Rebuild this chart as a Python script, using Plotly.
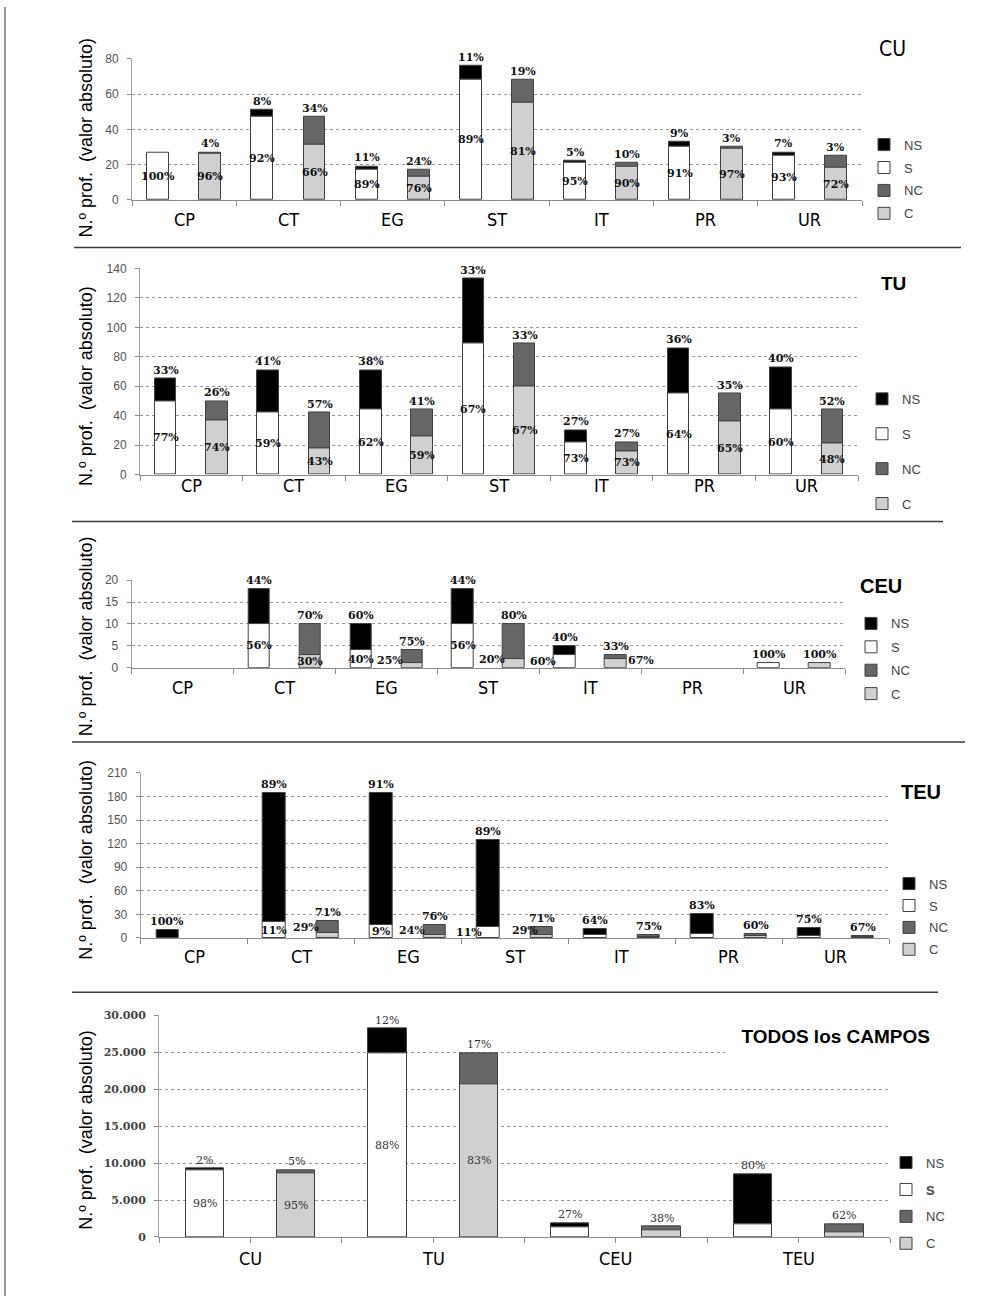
import plotly.graph_objects as go

W, H = 983, 1303

# ---------------- DATA ----------------
CATS = ["CP", "CT", "EG", "ST", "IT", "PR", "UR"]

# CU
CU_S = [27, 47, 17, 68, 21, 30, 25]
CU_NS = [0, 4, 2, 8, 1, 3, 2]
CU_C = [26, 31, 13, 55, 19, 29, 18]
CU_NC = [1, 16, 4, 13, 2, 1, 7]
CU_LBL_NS = ["", "8%", "11%", "11%", "5%", "9%", "7%"]
CU_LBL_S = ["100%", "92%", "89%", "89%", "95%", "91%", "93%"]
CU_LBL_NC = ["4%", "34%", "24%", "19%", "10%", "3%", "3%"]
CU_LBL_C = ["96%", "66%", "76%", "81%", "90%", "97%", "72%"]

# TU
TU_S = [50, 42, 44, 89, 22, 55, 44]
TU_NS = [15, 29, 27, 44, 8, 31, 29]
TU_C = [37, 18, 26, 60, 16, 36, 21]
TU_NC = [13, 24, 18, 29, 6, 19, 23]
TU_LBL_NS = ["33%", "41%", "38%", "33%", "27%", "36%", "40%"]
TU_LBL_S = ["77%", "59%", "62%", "67%", "73%", "64%", "60%"]
TU_LBL_NC = ["26%", "57%", "41%", "33%", "27%", "35%", "52%"]
TU_LBL_C = ["74%", "43%", "59%", "67%", "73%", "65%", "48%"]

# CEU
CEU_S = [0, 10, 4, 10, 3, 0, 1]
CEU_NS = [0, 8, 6, 8, 2, 0, 0]
CEU_C = [0, 3, 1, 2, 2, 0, 1]
CEU_NC = [0, 7, 3, 8, 1, 0, 0]
CEU_LBL_NS = ["", "44%", "60%", "44%", "40%", "", "100%"]
CEU_LBL_S = ["", "56%", "40%", "56%", "60%", "", ""]
CEU_LBL_NC = ["", "70%", "75%", "80%", "33%", "", "100%"]
CEU_LBL_C = ["", "30%", "25%", "20%", "67%", "", ""]

# TEU
TEU_S = [0, 20, 16, 14, 4, 5, 3]
TEU_NS = [10, 165, 169, 111, 7, 25, 9]
TEU_C = [0, 6, 4, 4, 1, 2, 1]
TEU_NC = [0, 15, 13, 10, 3, 3, 2]
TEU_LBL_NS = ["100%", "89%", "91%", "89%", "64%", "83%", "75%"]
TEU_LBL_S = ["", "11%", "9%", "11%", "", "", ""]
TEU_LBL_NC = ["", "71%", "76%", "71%", "75%", "60%", "67%"]
TEU_LBL_C = ["", "29%", "24%", "29%", "", "", ""]

# TODOS los CAMPOS
ALL_CATS = ["CU", "TU", "CEU", "TEU"]
ALL_S = [9050, 24800, 1365, 1700]
ALL_NS = [190, 3400, 505, 6780]
ALL_C = [8560, 20600, 855, 640]
ALL_NC = [450, 4250, 525, 1050]
ALL_LBL_NS = ["2%", "12%", "27%", "80%"]
ALL_LBL_S = ["98%", "88%", "", ""]
ALL_LBL_NC = ["5%", "17%", "38%", "62%"]
ALL_LBL_C = ["95%", "83%", "", ""]

# ---------------- STYLE / LAYOUT CONFIG ----------------
COLORS = {"NS": "#000000", "S": "#ffffff", "NC": "#666666", "C": "#d0d0d0"}
NARROW = "Liberation Sans Narrow, DejaVu Sans Condensed, Liberation Sans, sans-serif"
SANS = "Liberation Sans, Arial, sans-serif"
SERIF = "DejaVu Serif, serif"

PANELS = [
    dict(cats=CATS, S=CU_S, NS=CU_NS, C=CU_C, NC=CU_NC,
         L=dict(NS=CU_LBL_NS, S=CU_LBL_S, NC=CU_LBL_NC, C=CU_LBL_C),
         x0=132, x1=862, yt=52.3, yb=195, ymax=80, dtick=20, cat_y=215,
         title="CU", tfont=dict(family=NARROW, size=21, color="#000"), tx=892, ty=42,
         ytitle_y=132, leg_x=864, leg_y=124, leg_gap=3, lblcolor="#111", lblweight="bold",
         shifts={}),
    dict(cats=CATS, S=TU_S, NS=TU_NS, C=TU_C, NC=TU_NC,
         L=dict(NS=TU_LBL_NS, S=TU_LBL_S, NC=TU_LBL_NC, C=TU_LBL_C),
         x0=140, x1=858, yt=264.3, yb=472.7, ymax=140, dtick=20, cat_y=484,
         title="<b>TU</b>", tfont=dict(family=SANS, size=19, color="#000"), tx=893, ty=280,
         ytitle_y=383, leg_x=862, leg_y=381, leg_gap=15, lblcolor="#111", lblweight="bold",
         shifts={}),
    dict(cats=CATS, S=CEU_S, NS=CEU_NS, C=CEU_C, NC=CEU_NC,
         L=dict(NS=CEU_LBL_NS, S=CEU_LBL_S, NC=CEU_LBL_NC, C=CEU_LBL_C),
         x0=131.7, x1=845, yt=579.3, yb=668, ymax=20, dtick=5, cat_y=688,
         title="<b>CEU</b>", tfont=dict(family=SANS, size=20, color="#000"), tx=881, ty=585,
         ytitle_y=636, leg_x=851, leg_y=608, leg_gap=3.5, lblcolor="#111", lblweight="bold",
         shifts={("C", 2): (-22, 5), ("C", 3): (-22, 4), ("S", 4): (-22, 0), ("C", 4): (25, 3)}),
    dict(cats=CATS, S=TEU_S, NS=TEU_NS, C=TEU_C, NC=TEU_NC,
         L=dict(NS=TEU_LBL_NS, S=TEU_LBL_S, NC=TEU_LBL_NC, C=TEU_LBL_C),
         x0=140.7, x1=889.3, yt=774.3, yb=941, ymax=210, dtick=30, cat_y=960,
         title="<b>TEU</b>", tfont=dict(family=SANS, size=20, color="#000"), tx=921, ty=794,
         ytitle_y=862, leg_x=889, leg_y=871, leg_gap=2, lblcolor="#111", lblweight="bold",
         shifts={("C", 1): (-22, 8), ("C", 2): (-23, 6), ("C", 3): (-17, 6), ("S", 3): (-19, 0)}),
    dict(cats=ALL_CATS, S=ALL_S, NS=ALL_NS, C=ALL_C, NC=ALL_NC,
         L=dict(NS=ALL_LBL_NS, S=ALL_LBL_S, NC=ALL_LBL_NC, C=ALL_LBL_C),
         x0=159, x1=890, yt=1019.3, yb=1243.3, ymax=30000, dtick=5000, cat_y=1265,
         title=None, tx=None, ty=None,
         ytitle_y=1135, leg_x=886, leg_y=1153, leg_gap=7, lblcolor="#333", lblweight="normal",
         shifts={}),
]

BAR_W = 0.21
OFF = 0.25


def px_x(x):
    return x / W


def px_y(y):
    return 1 - y / H


def nz(vals):
    return [v if v else None for v in vals]


fig = go.Figure()
annotations = []
shapes = []
layout = dict(width=W, height=H, margin=dict(l=0, r=0, t=0, b=0), autosize=False,
              plot_bgcolor="white", paper_bgcolor="white", separators=",.",
              barmode="overlay", bargap=0, showlegend=True)

for k, p in enumerate(PANELS, start=1):
    sx = "" if k == 1 else str(k)
    xref, yref = "x" + sx, "y" + sx
    legname = "legend" + sx
    n = len(p["cats"])
    idx = list(range(n))
    xl = [i - OFF for i in idx]
    xr = [i + OFF for i in idx]
    is_all = (k == 5)

    series_def = [
        ("NS", xl, p["NS"], p["S"]),
        ("S", xl, p["S"], [0] * n),
        ("NC", xr, p["NC"], p["C"]),
        ("C", xr, p["C"], [0] * n),
    ]
    for name, xs, vals, base in series_def:
        disp = "<b>S</b>" if (is_all and name == "S") else name
        fig.add_trace(go.Bar(
            x=xs, y=nz(vals), base=base, width=BAR_W, name=disp,
            marker=dict(color=COLORS[name], line=dict(color="#404040", width=1)),
            xaxis=xref, yaxis=yref, legend=legname, legendgroup=f"{k}{name}",
            hoverinfo="skip",
        ))

    layout["xaxis" + sx] = dict(
        domain=[px_x(p["x0"]), px_x(p["x1"])], anchor=yref,
        range=[-0.5, n - 0.5], tickmode="array", tickvals=idx, ticktext=p["cats"],
        ticks="", showticklabels=False, showline=True, linecolor="#8c8c8c", linewidth=1,
        showgrid=False, zeroline=False,
        minor=dict(ticks="outside", ticklen=5, tickcolor="#8c8c8c", tickwidth=1,
                   tickmode="linear", tick0=-0.5, dtick=(0.5 if is_all else 1)),
        fixedrange=True,
    )
    ytick_font = (dict(family=SERIF, size=11, color="#444", weight="bold") if is_all
                  else dict(family=SANS, size=12, color="#555"))
    layout["yaxis" + sx] = dict(
        domain=[px_y(p["yb"]), px_y(p["yt"])], anchor=xref,
        range=[0, p["ymax"]], tickmode="linear", tick0=0, dtick=p["dtick"],
        ticks="outside", ticklen=4, tickcolor="#8c8c8c",
        showline=True, linecolor="#a0a0a0", linewidth=1,
        showgrid=True, gridcolor="#9a9a9a", griddash="dot", gridwidth=1,
        zeroline=False, tickfont=ytick_font, ticklabelstandoff=6,
        tickformat=",d", fixedrange=True,
    )

    for i in idx:
        annotations.append(dict(x=i, y=px_y(p["cat_y"]), xref=xref, yref="paper",
                                text=p["cats"][i], showarrow=False, xanchor="center",
                                yanchor="middle",
                                font=dict(family=NARROW, size=18, color="#000")))

    lfont = dict(family=SERIF, size=11, color=p["lblcolor"], weight=p["lblweight"])
    for i in idx:
        for key, xs, top in (("NS", xl, p["S"][i] + p["NS"][i]),
                             ("NC", xr, p["C"][i] + p["NC"][i])):
            t = p["L"][key][i]
            if t:
                annotations.append(dict(x=xs[i], y=top, xref=xref, yref=yref, text=t,
                                        showarrow=False, yanchor="bottom", xanchor="center",
                                        font=lfont))
        for key, xs, v in (("S", xl, p["S"][i]), ("C", xr, p["C"][i])):
            t = p["L"][key][i]
            if t:
                dx, dy = p["shifts"].get((key, i), (0, 0))
                annotations.append(dict(x=xs[i], y=v / 2, xref=xref, yref=yref, text=t,
                                        showarrow=False, yanchor="middle", xanchor="center",
                                        font=lfont, xshift=dx, yshift=dy))

    annotations.append(dict(x=px_x(86), y=px_y(p["ytitle_y"]), xref="paper", yref="paper",
                            text="N.º prof. &nbsp;(valor absoluto)", textangle=-90,
                            showarrow=False, xanchor="center", yanchor="middle",
                            font=dict(family=SANS, size=18, color="#000")))
    if p["title"]:
        annotations.append(dict(x=px_x(p["tx"]), y=px_y(p["ty"]), xref="paper", yref="paper",
                                text=p["title"], showarrow=False, xanchor="center",
                                yanchor="middle", font=p["tfont"]))

    layout[legname] = dict(x=px_x(p["leg_x"]), y=px_y(p["leg_y"]), xanchor="left",
                           yanchor="top", orientation="v", traceorder="grouped",
                           tracegroupgap=p["leg_gap"], bgcolor="rgba(0,0,0,0)",
                           font=dict(family=SANS, size=13, color="#444"),
                           itemwidth=30, itemclick=False, itemdoubleclick=False)

annotations.append(dict(x=px_x(725), y=px_y(1028), xref="paper", yref="paper",
                        text="<b>TODOS los CAMPOS</b>", showarrow=False,
                        xanchor="left", yanchor="top", width=203, height=33,
                        align="right", valign="top", bgcolor="white",
                        font=dict(family=SANS, size=19, color="#000")))

for y, xa, xb in ((243, 74, 961), (520, 72, 943), (743, 72, 965), (996, 72, 938)):
    shapes.append(dict(type="line", xref="paper", yref="paper",
                       x0=px_x(xa), x1=px_x(xb), y0=px_y(y), y1=px_y(y),
                       line=dict(color="#3a3a3a", width=1.5)))
shapes.append(dict(type="line", xref="paper", yref="paper",
                   x0=px_x(5), x1=px_x(5), y0=0, y1=1,
                   line=dict(color="#3a3a3a", width=1)))

layout["annotations"] = annotations
layout["shapes"] = shapes
fig.update_layout(**layout)

fig.write_html("out.html", config={"displayModeBar": False},
               post_script="document.body.style.margin='0px';document.body.style.overflow='hidden';")
